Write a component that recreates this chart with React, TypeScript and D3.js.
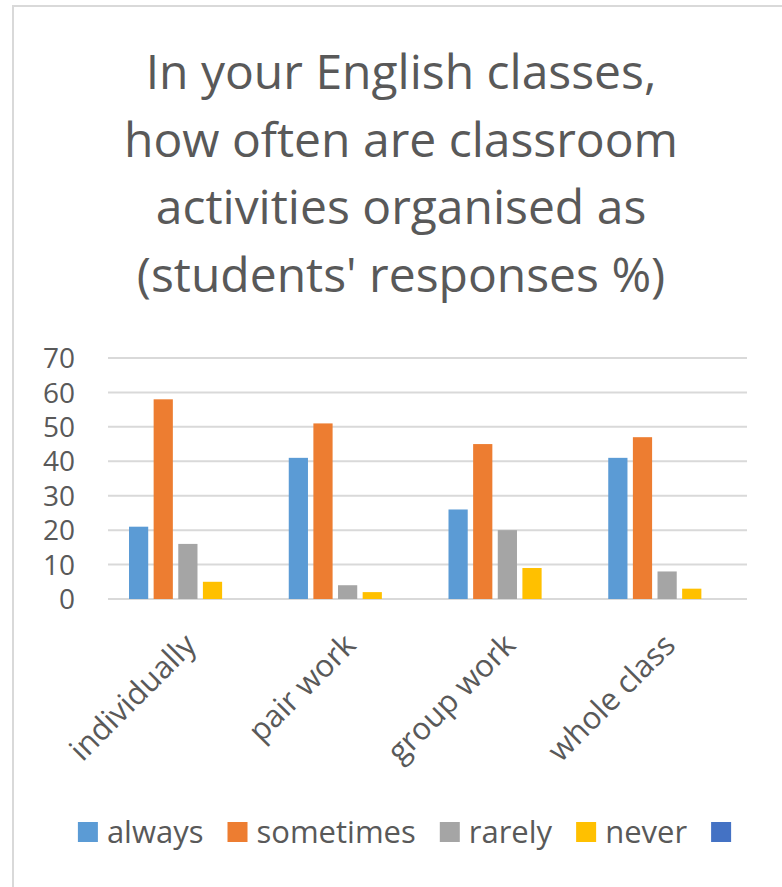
import React, { useEffect, useRef } from 'react';
import * as d3 from 'd3';

const categories = ['individually', 'pair work', 'group work', 'whole class'];
const seriesNames = ['always', 'sometimes', 'rarely', 'never', ''];
const seriesColors = ['#5B9BD5', '#ED7D31', '#A5A5A5', '#FFC000', '#4472C4'];
const always = [21, 41, 26, 41];
const sometimes = [58, 51, 45, 47];
const rarely = [16, 4, 20, 8];
const never = [5, 2, 9, 3];
const blank: (number | null)[] = [null, null, null, null];
const yTicks = [0, 10, 20, 30, 40, 50, 60, 70];
const titleLines = [
  'In your English classes,',
  'how often are classroom',
  'activities organised as',
  "(students' responses %)",
];

const FONT = '"Open Sans", sans-serif';
const TEXT = '#595959';

export default function App() {
  const svgRef = useRef<SVGSVGElement>(null);

  useEffect(() => {
    if (!svgRef.current) return;
    const svg = d3.select(svgRef.current);
    svg.selectAll('*').remove();

    const W = 782;
    const H = 887;
    const plot = { left: 108, right: 747, top: 358, bottom: 599 };
    const values = [always, sometimes, rarely, never, blank];

    svg.append('rect').attr('width', W).attr('height', H).attr('fill', '#fff');
    // chart frame (only left and top edges are in view)
    svg
      .append('rect')
      .attr('x', 13)
      .attr('y', 6)
      .attr('width', W + 40)
      .attr('height', H + 40)
      .attr('fill', 'none')
      .attr('stroke', '#d9d9d9')
      .attr('stroke-width', 2);

    // title
    svg
      .append('text')
      .attr('text-anchor', 'middle')
      .attr('font-family', FONT)
      .attr('font-size', 48)
      .attr('fill', TEXT)
      .selectAll('tspan')
      .data(titleLines)
      .enter()
      .append('tspan')
      .attr('x', 401)
      .attr('y', (_, i) => 89 + i * 67.6)
      .text((d) => d);

    const x0 = d3
      .scaleBand<string>()
      .domain(categories)
      .range([plot.left, plot.right])
      .padding(0);
    const x1 = d3
      .scaleBand<string>()
      .domain(seriesNames.map((_, i) => String(i)))
      .range([21, x0.bandwidth() - 21])
      .paddingInner(0.22);
    const y = d3.scaleLinear().domain([0, 70]).range([plot.bottom, plot.top]);

    // gridlines
    svg
      .append('g')
      .selectAll('line')
      .data(yTicks)
      .enter()
      .append('line')
      .attr('x1', plot.left)
      .attr('x2', plot.right)
      .attr('y1', (d) => y(d))
      .attr('y2', (d) => y(d))
      .attr('stroke', '#d9d9d9')
      .attr('stroke-width', 2);

    // y tick labels
    svg
      .append('g')
      .selectAll('text')
      .data(yTicks)
      .enter()
      .append('text')
      .attr('x', 75)
      .attr('y', (d) => y(d))
      .attr('dy', '0.36em')
      .attr('text-anchor', 'end')
      .attr('font-family', FONT)
      .attr('font-size', 28)
      .attr('fill', TEXT)
      .text((d) => d);

    // bars
    values.forEach((vals, si) => {
      svg
        .append('g')
        .selectAll('rect')
        .data(vals.map((v, ci) => ({ v, c: categories[ci] })).filter((d) => d.v != null))
        .enter()
        .append('rect')
        .attr('x', (d) => (x0(d.c) || 0) + (x1(String(si)) || 0))
        .attr('width', x1.bandwidth())
        .attr('y', (d) => y(d.v as number))
        .attr('height', (d) => plot.bottom - y(d.v as number))
        .attr('fill', seriesColors[si]);
    });

    // x labels
    svg
      .append('g')
      .selectAll('text')
      .data(categories)
      .enter()
      .append('text')
      .attr('text-anchor', 'end')
      .attr('font-family', FONT)
      .attr('font-size', 31)
      .attr('fill', TEXT)
      .attr('transform', (d) => `translate(${(x0(d) || 0) + x0.bandwidth() / 2 + 10},${647}) rotate(-45)`)
      .text((d) => d);

    // legend
    const legend = svg.append('g').attr('font-family', FONT).attr('font-size', 31).attr('fill', TEXT);
    const items = seriesNames.map((name, i) => {
      const g = legend.append('g');
      g.append('rect').attr('width', 20).attr('height', 20).attr('y', -10).attr('fill', seriesColors[i]);
      const t = g.append('text').attr('x', 29).attr('dy', '0.34em').text(name);
      const w = name ? 29 + (t.node() as SVGTextElement).getComputedTextLength() : 20;
      return { g, w };
    });
    const gap = 24;
    const total = d3.sum(items, (d) => d.w) + gap * (items.length - 1);
    let cx = 404.5 - total / 2;
    items.forEach((it) => {
      it.g.attr('transform', `translate(${cx},832)`);
      cx += it.w + gap;
    });
  }, []);

  return (
    <div style={{ position: 'absolute', left: 0, top: 0 }}>
      <svg ref={svgRef} width={782} height={887} style={{ display: 'block' }} />
    </div>
  );
}
